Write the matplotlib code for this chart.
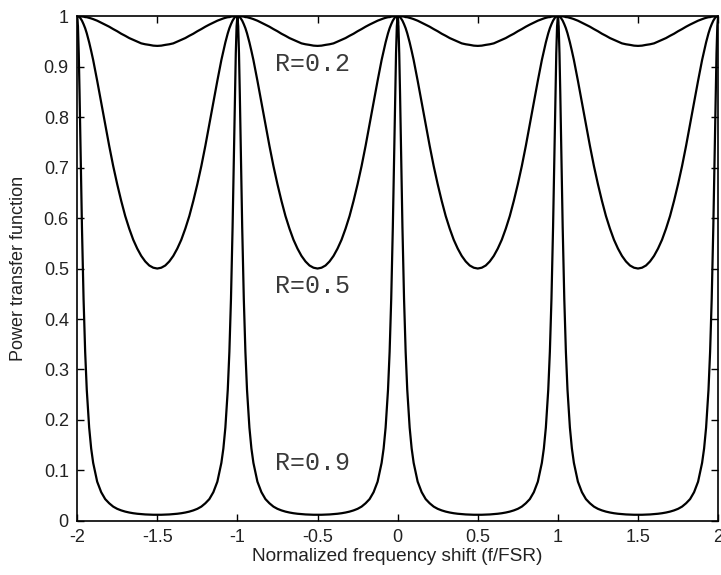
import numpy as np
import matplotlib
matplotlib.use("Agg")
import matplotlib.pyplot as plt

plt.rcParams['font.family'] = ['Liberation Sans', 'DejaVu Sans']
plt.rcParams['axes.unicode_minus'] = False

# Offsets from the nearest transmission peak (half period, f/FSR)
offsets = [0, 0.005, 0.01, 0.015, 0.02, 0.03, 0.04, 0.05, 0.06, 0.075, 0.0875,
           0.1, 0.125, 0.15, 0.175, 0.2, 0.225, 0.25, 0.275, 0.3, 0.325, 0.35,
           0.375, 0.4, 0.425, 0.45, 0.475, 0.5]
# Read values of the power transfer function at those offsets
t_r02 = [1.0, 1.0, 1.0, 0.9999, 0.9998, 0.9995, 0.999, 0.998, 0.9978, 0.9966,
         0.9954, 0.994, 0.9909, 0.987, 0.9832, 0.979, 0.9743, 0.970, 0.9651,
         0.961, 0.9565, 0.953, 0.9494, 0.946, 0.9442, 0.943, 0.9415, 0.941]
t_r05 = [1.0, 0.9998, 0.999, 0.998, 0.996, 0.991, 0.984, 0.976, 0.966, 0.948,
         0.931, 0.913, 0.872, 0.829, 0.786, 0.743, 0.703, 0.667, 0.634, 0.604,
         0.579, 0.557, 0.5395, 0.525, 0.514, 0.506, 0.5016, 0.500]
t_r09 = [1.0, 0.980, 0.926, 0.848, 0.758, 0.582, 0.440, 0.335, 0.260, 0.185,
         0.1435, 0.115, 0.0778, 0.057, 0.0433, 0.035, 0.0284, 0.024, 0.0209,
         0.0185, 0.0167, 0.0153, 0.01426, 0.0135, 0.0129, 0.0125, 0.01227, 0.0122]
peak_positions = [-2, -1, 0, 1]
labels = ["R=0.2", "R=0.5", "R=0.9"]
label_pos = [(-0.765, 0.905), (-0.765, 0.465), (-0.765, 0.115)]

xticks = [-2, -1.5, -1, -0.5, 0, 0.5, 1, 1.5, 2]
xticklabels = ["-2", "-1.5", "-1", "-0.5", "0", "0.5", "1", "1.5", "2"]
yticks = [0, 0.1, 0.2, 0.3, 0.4, 0.5, 0.6, 0.7, 0.8, 0.9, 1]
yticklabels = ["0", "0.1", "0.2", "0.3", "0.4", "0.5", "0.6", "0.7", "0.8", "0.9", "1"]


def build(profile):
    d = np.array(offsets)
    v = np.array(profile)
    xs, ys = [], []
    for k in peak_positions:
        xs.append(k + d)
        ys.append(v)
        xs.append(k + 1 - d[::-1][1:])
        ys.append(v[::-1][1:])
    return np.concatenate(xs), np.concatenate(ys)


fig = plt.figure(figsize=(7.21, 5.75), dpi=100)
ax = fig.add_axes([0.107, 0.094, 0.889, 0.878])

for prof in (t_r02, t_r05, t_r09):
    x, y = build(prof)
    ax.plot(x, y, color='black', lw=1.6)

for lab, (lx, ly) in zip(labels, label_pos):
    ax.text(lx, ly, lab, family='Liberation Mono', fontsize=18,
            color='#3a3a3a', va='center', ha='left')

ax.set_xlim(-2, 2)
ax.set_ylim(0, 1)
ax.set_xticks(xticks)
ax.set_xticklabels(xticklabels)
ax.set_yticks(yticks)
ax.set_yticklabels(yticklabels)
ax.tick_params(direction='in', length=5, width=1, top=True, right=True,
               labelsize=13, pad=6, labelcolor='#222222')
for s in ax.spines.values():
    s.set_linewidth(1.2)
ax.set_xlabel("Normalized frequency shift (f/FSR)", fontsize=13.7, labelpad=1,
              color='#222222')
ax.set_ylabel("Power transfer function", fontsize=13, labelpad=12,
              color='#222222')

fig.savefig("out.png", dpi=100)
